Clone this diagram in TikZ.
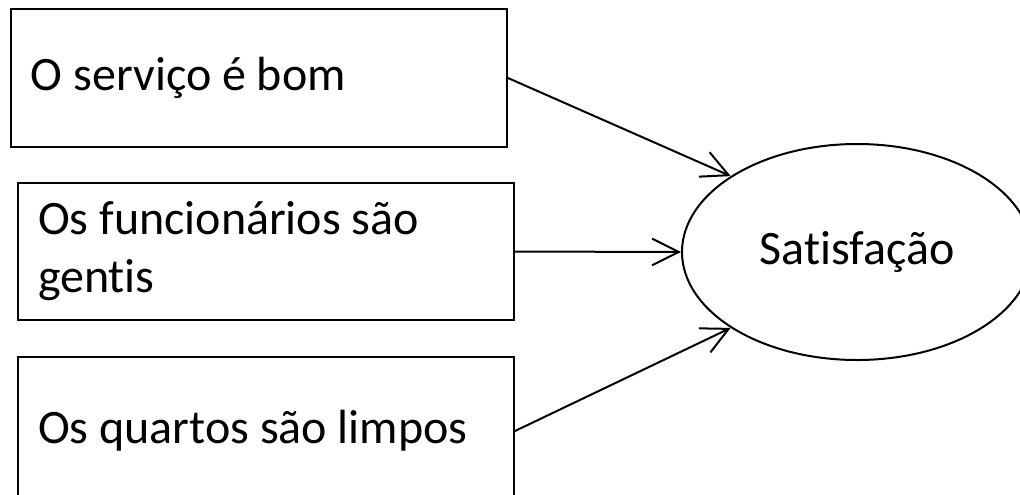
\documentclass[tikz,border=0pt]{standalone}
\usepackage{fontspec}
\setmainfont{Carlito}[Ligatures=NoCommon]
\usetikzlibrary{shapes.geometric,arrows.meta}
\begin{document}
\begin{tikzpicture}[x=0.75pt,y=-0.75pt,
  every node/.style={font=\fontsize{36}{43.5}\selectfont},
  boxnode/.style={draw, line width=1.5pt, rectangle, inner xsep=15pt, inner ysep=0pt,
    text width=342pt, align=flush left},
  conn/.style={line width=1.5pt, -{Straight Barb[length=20pt,width=20pt,line width=1.5pt]}}]
\useasboundingbox[fill=white] (0,0) rectangle (1020,494);
\node[boxnode, minimum height=103.5pt] (b1) at (259,78) {O serviço é bom};
\node[boxnode, minimum height=102.75pt] (b2) at (266,251.5) {Os funcionários são\\gentis};
\node[boxnode, minimum height=111pt] (b3) at (266,431) {Os quartos são limpos};
\node[draw, ellipse, line width=1.5pt, inner sep=0pt, minimum width=262.5pt, minimum height=162pt] (e) at (857,252) {Satisfação};
\draw[conn] (b1.east) -- (e.149);
\draw[conn] (b2.east) -- (e.west);
\draw[conn] (b3.east) -- (e.211);
\end{tikzpicture}
\end{document}
